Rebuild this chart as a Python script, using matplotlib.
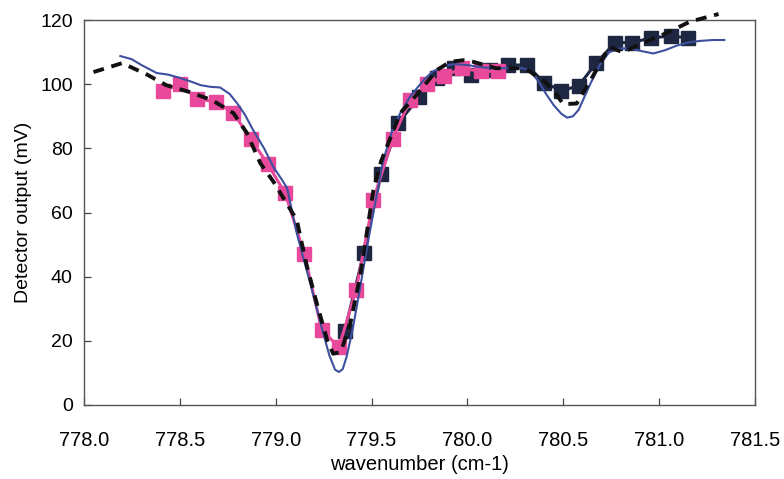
import matplotlib
matplotlib.use("Agg")
import matplotlib.pyplot as plt

plt.rcParams["font.family"] = ["Liberation Sans", "DejaVu Sans"]

# measured data, pink squares (scan 1)
pink_x = [778.41, 778.50, 778.59, 778.69, 778.78, 778.87, 778.96, 779.05, 779.15, 779.24,
          779.33, 779.42, 779.51, 779.61, 779.70, 779.79, 779.88, 779.97, 780.07, 780.16]
pink_y = [98.0, 100.0, 95.5, 94.5, 91.0, 83.0, 75.0, 66.0, 47.0, 23.5,
          18.0, 36.0, 64.0, 83.0, 95.0, 100.0, 102.5, 105.0, 104.0, 104.0]

# measured data, navy squares (scan 2)
navy_x = [779.36, 779.46, 779.55, 779.64, 779.75, 779.84, 779.93, 780.02, 780.12, 780.21,
          780.31, 780.40, 780.49, 780.58, 780.67, 780.77, 780.86, 780.96, 781.06, 781.15]
navy_y = [23.0, 47.5, 72.0, 88.0, 96.0, 102.0, 105.0, 103.0, 104.5, 106.0,
          106.0, 100.5, 98.0, 99.5, 106.5, 113.0, 113.0, 114.5, 115.0, 114.5]

# simulated spectrum (solid blue)
sim_x = [778.19, 778.25, 778.30, 778.38, 778.44, 778.50, 778.56, 778.61, 778.66, 778.71,
         778.76, 778.80, 778.84, 778.88, 778.94, 778.99, 779.03, 779.06, 779.11, 779.18,
         779.25, 779.28, 779.31, 779.33, 779.35, 779.37, 779.40, 779.43, 779.49, 779.56,
         779.61, 779.65, 779.70, 779.74, 779.78, 779.82, 779.87, 779.93, 780.00, 780.05,
         780.12, 780.20, 780.27, 780.32, 780.37, 780.41, 780.45, 780.49, 780.52, 780.55,
         780.58, 780.61, 780.64, 780.69, 780.74, 780.80, 780.86, 780.92, 780.97, 781.03,
         781.09, 781.15, 781.21, 781.28, 781.34]
sim_y = [108.8, 107.8, 106.0, 103.5, 103.0, 102.0, 100.8, 99.7, 99.2, 99.0,
         97.0, 94.0, 90.5, 86.0, 80.0, 74.0, 70.5, 67.6, 53.6, 38.0,
         22.0, 15.5, 11.0, 10.3, 11.2, 15.0, 23.0, 33.0, 53.6, 76.0,
         86.0, 91.0, 96.0, 99.0, 101.8, 104.0, 105.5, 106.3, 106.0, 105.5,
         105.0, 105.0, 105.2, 104.5, 101.0, 97.0, 93.5, 90.8, 89.6, 90.0,
         92.0, 96.0, 100.0, 106.0, 110.0, 111.2, 111.0, 110.2, 109.6, 110.6,
         112.0, 113.0, 113.5, 113.8, 113.8]

# fitted spectrum (dashed black)
fit_x = [778.05, 778.20, 778.33, 778.43, 778.55, 778.67, 778.78, 778.85, 778.92, 778.99,
         779.11, 779.16, 779.22, 779.27, 779.30, 779.34, 779.39, 779.44, 779.51, 779.55,
         779.65, 779.74, 779.84, 779.91, 779.98, 780.03, 780.15, 780.30, 780.40, 780.45,
         780.50, 780.57, 780.64, 780.74, 780.81, 780.92, 781.04, 781.16, 781.31]
fit_y = [103.8, 106.6, 103.0, 99.7, 97.6, 95.0, 91.0, 84.8, 75.4, 69.5,
         57.7, 44.0, 30.5, 20.0, 16.0, 16.5, 25.6, 40.0, 67.0, 76.0,
         91.0, 97.0, 104.4, 107.0, 107.5, 107.0, 105.0, 105.0, 101.0, 98.0,
         93.8, 94.0, 101.0, 111.6, 110.0, 113.0, 116.0, 119.5, 121.9]

PINK = "#e9499b"
NAVY = "#1d2742"
BLUE = "#3c509f"


def main():
    fig = plt.figure(figsize=(7.84, 4.79), dpi=100)
    ax = fig.add_axes([0.107, 0.1545, 0.856, 0.8035])

    ax.plot(navy_x, navy_y, color=NAVY, lw=2.2, marker="s", ms=9.5, zorder=3)
    ax.plot(pink_x, pink_y, color=PINK, lw=2.2, marker="s", ms=9.5, zorder=3)
    ax.plot(sim_x, sim_y, color=BLUE, lw=1.5, zorder=4)
    ax.plot(fit_x, fit_y, color="#111111", lw=2.8, ls=(0, (2.8, 2.0)), zorder=5, clip_on=False)

    ax.set_xlim(778.0, 781.5)
    ax.set_ylim(0, 120)
    ax.set_xticks([778.0, 778.5, 779.0, 779.5, 780.0, 780.5, 781.0, 781.5])
    ax.set_xticklabels([f"{v:.1f}" for v in ax.get_xticks()])
    ax.set_yticks(range(0, 121, 20))
    ax.tick_params(direction="in", length=5, width=0.9, color="#444444")
    ax.tick_params(axis="x", labelsize=14.5, pad=19)
    ax.tick_params(axis="y", labelsize=14, pad=8)
    ax.set_xlabel("wavenumber (cm-1)", fontsize=14.5, labelpad=3)
    ax.set_ylabel("Detector output (mV)", fontsize=14, labelpad=6)
    for sp in ax.spines.values():
        sp.set_color("#555555")
        sp.set_linewidth(1.0)

    fig.savefig("out.png", dpi=100)
    plt.close(fig)


if __name__ == "__main__":
    main()
